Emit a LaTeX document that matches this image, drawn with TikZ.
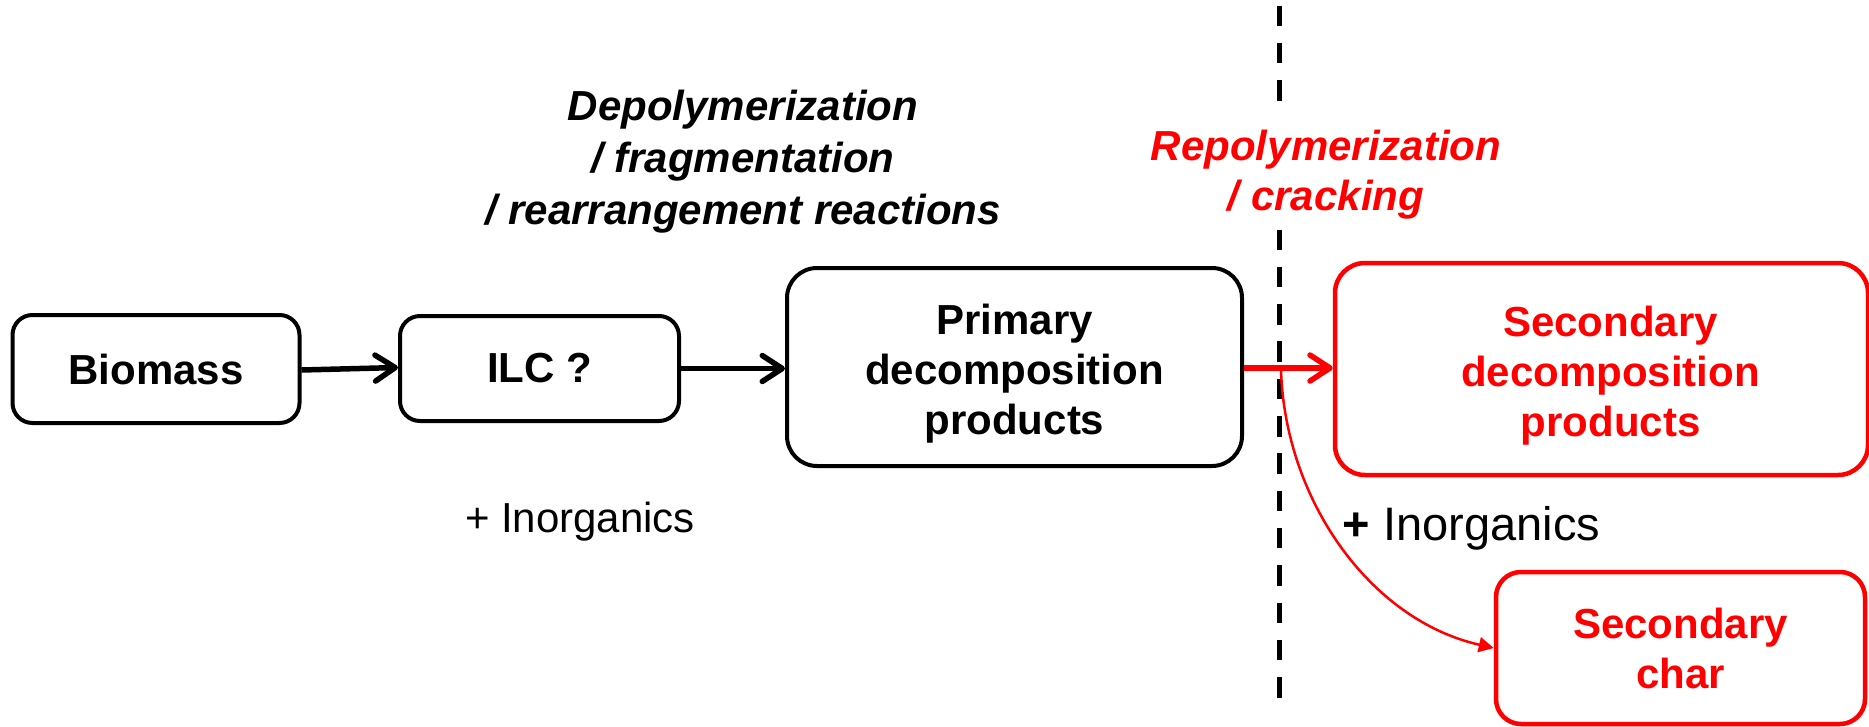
\documentclass[tikz,border=0pt]{standalone}
\usepackage{fontspec}
\setmainfont{Liberation Sans}
\usetikzlibrary{arrows.meta}
\definecolor{myred}{RGB}{255,0,0}
\begin{document}
\begin{tikzpicture}[x=1pt,y=-1pt,
  box/.style={draw=black, line width=4pt, rounded corners=20pt, align=center, inner sep=0pt,
    font=\bfseries\fontsize{42}{50}\selectfont},
  rbox/.style={box, draw=myred, text=myred, line width=4.5pt, rounded corners=30pt},
  lbl/.style={align=center, inner sep=0pt, font=\bfseries\itshape\fontsize{42}{52}\selectfont},
  plain/.style={inner sep=0pt, anchor=base},
  thickarr/.style={line width=5.5pt, -{Straight Barb[length=20pt,width=26pt,line width=5.5pt,round]}},
  thinarr/.style={line width=2.5pt, draw=myred, -{Triangle[length=15pt,width=15pt]}},
  divider/.style={line width=5pt, dash pattern=on 20.5pt off 16.8pt}
]
\useasboundingbox (0,0) rectangle (1869,726);
\fill[white] (0,0) rectangle (1869,726);

% divider (interrupted behind the red label)
\coordinate (dtop) at (1279,5.5);
\coordinate (dgapA) at (1279,101.5);
\coordinate (dgapB) at (1279,229.5);
\coordinate (dbot) at (1279,698.5);
\draw[divider] (dtop) -- (dgapA);
\draw[divider] (dgapB) -- (dbot);

% boxes
\newcommand{\mytopstrut}{\rule{0pt}{43pt}}
\newcommand{\mysecshift}{\hspace*{18pt}}
\node[box, minimum width=287pt, minimum height=108pt] (biomass) at (156,369) {Biomass};
\node[box, minimum width=279pt, minimum height=105pt] (ilc) at (539.5,368.5) {ILC ?};
\node[box, rounded corners=30pt, minimum width=455pt, minimum height=198pt] (primary) at (1014.5,367) {\mytopstrut Primary\\decomposition\\products};
\node[rbox, minimum width=533pt, minimum height=212pt] (secdec) at (1601.5,369) {\mytopstrut\mysecshift Secondary\\\mysecshift decomposition\\\mysecshift products};
\node[rbox, rounded corners=25pt, minimum width=369pt, minimum height=152pt] (secchar) at (1680.5,648) {Secondary\\char};

% labels
\node[lbl] (depol) at (743,162) {Depolymerization\\/ fragmentation\\/ rearrangement reactions};
\node[lbl, text=myred, font=\bfseries\itshape\fontsize{42}{50}\selectfont] (repol) at (1326,174.5) {Repolymerization\\/ cracking};
\node[plain, font=\fontsize{42}{44}\selectfont] (inorgA) at (580,532) {+ Inorganics};
\node[plain, font=\fontsize{47}{50}\selectfont] (inorgB) at (1471.5,540) {{\bfseries +} Inorganics};

% connectors
\draw[thickarr] ([yshift=-1pt]biomass.east) -- ([yshift=1pt]ilc.west);
\draw[thickarr] (ilc.east) -- (ilc.east -| primary.west);
\draw[thickarr, draw=myred] ([yshift=-1pt]primary.east) -- ([yshift=-1pt]primary.east -| secdec.west);
\coordinate (split) at (1281,370);
\draw[thinarr] (split) .. controls (1285,500) and (1370,620) .. (secchar.west);
\end{tikzpicture}
\end{document}
